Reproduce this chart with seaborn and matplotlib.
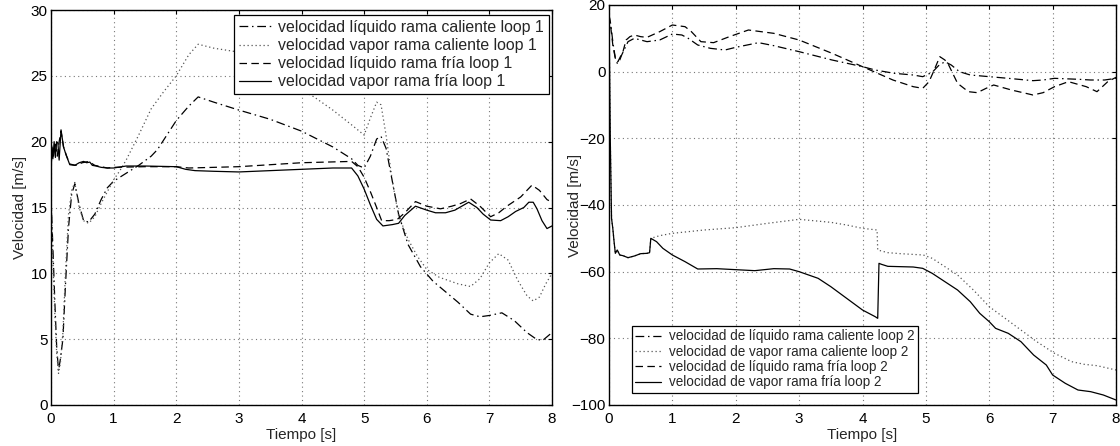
import numpy as np
import pandas as pd
import matplotlib
matplotlib.use("Agg")
import matplotlib.pyplot as plt
import seaborn as sns

# ---------------- data ----------------
xticks = [0, 1, 2, 3, 4, 5, 6, 7, 8]
yticks_left = [0, 5, 10, 15, 20, 25, 30]
yticks_right = [-100, -80, -60, -40, -20, 0, 20]

labels_left = ["velocidad líquido rama caliente loop 1",
               "velocidad vapor rama caliente loop 1",
               "velocidad líquido rama fría loop 1",
               "velocidad vapor rama fría loop 1"]
labels_right = ["velocidad de líquido rama caliente loop 2",
                "velocidad de vapor rama caliente loop 2",
                "velocidad de líquido rama fría loop 2",
                "velocidad de vapor rama fría loop 2"]

# loop 1 -- liquid, hot leg (dash-dot)
t_lc1 = [0, 0.03, 0.06, 0.09, 0.12, 0.15, 0.19, 0.23, 0.28, 0.33, 0.38, 0.45, 0.52, 0.6, 0.7, 0.8, 0.9,
         1.0, 1.2, 1.4, 1.6, 1.7, 1.85, 2.0, 2.2, 2.35, 2.6, 3.0, 3.5, 4.0, 4.5, 4.8, 4.9, 5.0, 5.1,
         5.2, 5.27, 5.35, 5.45, 5.55, 5.7, 5.9, 6.1, 6.3, 6.5, 6.7, 6.85, 7.0, 7.2, 7.4, 7.6, 7.75,
         7.85, 7.95, 8.0]
v_lc1 = [15.8, 12, 8, 4.5, 2.6, 3.5, 5.0, 9, 13.5, 16.0, 16.8, 15.2, 14.0, 13.9, 14.5, 15.6, 16.5,
         17.0, 17.6, 18.2, 18.9, 19.4, 20.5, 21.6, 22.7, 23.4, 23.0, 22.4, 21.7, 20.8, 19.6, 18.7,
         18.2, 18.0, 18.9, 20.2, 20.4, 19.5, 17.0, 14.5, 12.2, 10.5, 9.4, 8.6, 7.8, 6.9, 6.7, 6.8,
         7.0, 6.4, 5.5, 5.0, 4.9, 5.3, 5.5]

# loop 1 -- vapour, hot leg (dotted)
t_vc1 = [0, 0.03, 0.06, 0.09, 0.12, 0.15, 0.19, 0.23, 0.28, 0.33, 0.38, 0.45, 0.52, 0.6, 0.7, 0.8,
         0.9, 1.0, 1.1, 1.2, 1.4, 1.6, 1.8, 2.0, 2.2, 2.35, 2.6, 3.0, 3.5, 3.93, 4.2, 4.5, 4.82,
         5.0, 5.1, 5.2, 5.27, 5.35, 5.45, 5.55, 5.7, 5.85, 6.0, 6.2, 6.5, 6.7, 6.85, 7.0, 7.15,
         7.3, 7.45, 7.6, 7.7, 7.8, 7.9, 8.0]
v_vc1 = [15.8, 11, 7, 4, 2.4, 3.2, 5.5, 10, 14.5, 16.3, 16.9, 15.0, 14.0, 13.8, 14.3, 15.3,
         16.2, 17.1, 17.8, 18.6, 20.5, 22.5, 23.8, 25.0, 26.6, 27.4, 27.1, 26.8, 25.5, 24.1, 23.4,
         22.4, 21.2, 20.5, 21.8, 23.0, 22.8, 20.5, 17.0, 14.4, 12.6, 11.3, 10.3, 9.7, 9.2, 9.0,
         9.6, 10.8, 11.5, 11.0, 9.5, 8.3, 7.9, 8.2, 9.2, 10.0]

# loop 1 -- liquid, cold leg (dashed)
t_lf1 = [0, 0.01, 0.04, 0.07, 0.1, 0.13, 0.16, 0.2, 0.25, 0.3, 0.4, 0.5, 0.6, 0.7, 0.8, 0.9, 1.0,
         1.5, 2.0, 2.2, 3.0, 4.0, 4.8, 4.9, 5.0, 5.1, 5.2, 5.28, 5.4, 5.53, 5.65, 5.82, 6.0, 6.22,
         6.4, 6.54, 6.7, 6.85, 7.02, 7.15, 7.28, 7.5, 7.68, 7.8, 7.92, 8.0]
v_lf1 = [15.8, 19.6, 18.9, 19.8, 18.9, 20.0, 20.8, 19.6, 18.9, 18.3, 18.2, 18.4, 18.5, 18.2,
         18.1, 18.0, 18.05, 18.1, 18.1, 18.0, 18.1, 18.4, 18.5, 18.1, 17.3, 16.2, 15.0, 14.0,
         14.0, 14.1, 14.6, 15.45, 15.1, 14.9, 15.1, 15.3, 15.65, 15.1, 14.3, 14.6, 15.1, 15.8,
         16.7, 16.3, 15.6, 15.4]

# loop 1 -- vapour, cold leg (solid)
t_vf1 = [0, 0.01, 0.03, 0.05, 0.07, 0.09, 0.11, 0.13, 0.16, 0.2, 0.24, 0.3, 0.38, 0.45, 0.52,
         0.57, 0.62, 0.66, 0.72, 0.8, 0.9, 1.0, 1.2, 1.5, 2.0, 2.15, 2.3, 2.6, 3.0, 3.5, 4.0, 4.5,
         4.8, 4.9, 5.0, 5.1, 5.2, 5.3, 5.45, 5.55, 5.65, 5.82, 6.0, 6.14, 6.3, 6.45, 6.67, 6.8,
         6.9, 7.02, 7.18, 7.3, 7.42, 7.55, 7.63, 7.7, 7.76, 7.84, 7.92, 8.0]
v_vf1 = [15.8, 19.7, 18.7, 20.0, 18.8, 20.0, 19.9, 18.6, 20.9, 19.6, 19.0, 18.25, 18.2, 18.4,
         18.5, 18.4, 18.45, 18.2, 18.15, 18.05, 18.0, 18.0, 18.15, 18.15, 18.1, 17.9, 17.8, 17.75,
         17.7, 17.8, 17.9, 18.0, 18.0, 17.4, 16.4, 15.2, 14.1, 13.6, 13.7, 13.8, 14.4, 15.1, 14.8,
         14.6, 14.6, 14.8, 15.4, 15.0, 14.5, 14.05, 14.0, 14.3, 14.7, 15.0, 15.4, 15.4, 14.9, 14.0,
         13.4, 13.6]

# loop 2 -- liquid, hot leg (dash-dot)
t_lc2 = [0, 0.03, 0.06, 0.1, 0.13, 0.17, 0.2, 0.25, 0.3, 0.4, 0.5, 0.6, 0.8, 1.0, 1.15, 1.25, 1.4,
         1.6, 1.83, 2.0, 2.36, 2.6, 3.0, 3.52, 4.0, 4.2, 4.5, 4.8, 4.95, 5.1, 5.2, 5.3, 5.4, 5.53,
         5.7, 6.0, 6.3, 6.69, 6.85, 7.03, 7.42, 7.6, 7.82, 8.0]
v_lc2 = [17, 14, 9, 4, 2.5, 3.5, 5, 7, 9, 10, 9.5, 9, 9.5, 11.3, 11, 10, 8, 7, 6.5, 7.3, 8.7, 7.8,
         6, 3.5, 1.5, 0.5, -0.5, -1, -1.5, -0.2, 1.8, 3, 2, 0, -1, -1.5, -2, -2.7, -2.5, -2,
         -2.3, -2.5, -2.5, -2]

# loop 2 -- vapour, hot leg (dotted)
t_vc2 = [0, 0.02, 0.04, 0.06, 0.08, 0.1, 0.13, 0.17, 0.22, 0.3, 0.4, 0.5, 0.6, 0.64, 0.66, 0.8,
         1.0, 1.5, 2.0, 2.5, 3.0, 3.5, 3.75, 4.0, 4.23, 4.24, 4.4, 4.6, 4.96, 5.1, 5.22, 5.5, 5.75,
         6.0, 6.25, 6.5, 6.75, 7.03, 7.3, 7.5, 7.7, 8.0]
v_vc2 = [17, -20, -44, -47, -51, -54.5, -53.5, -55, -55.2, -55.8, -55.3, -54.6, -54.5, -54.3,
         -50, -49.2, -48.5, -47.5, -46.8, -45.5, -44.3, -45.2, -46, -47, -47.5, -53.5, -54.3,
         -54.6, -55, -56, -57.5, -61, -65.5, -70.5, -74, -77.5, -81, -84.5, -87, -87.8, -88.2,
         -89.5]

# loop 2 -- liquid, cold leg (dashed)
t_lf2 = [0, 0.03, 0.06, 0.1, 0.14, 0.18, 0.22, 0.27, 0.33, 0.4, 0.5, 0.6, 0.8, 1.0, 1.2, 1.3,
         1.45, 1.65, 1.9, 2.2, 2.6, 3.0, 3.52, 4.0, 4.48, 4.8, 4.95, 5.05, 5.12, 5.22, 5.3, 5.36,
         5.5, 5.67, 5.81, 5.95, 6.07, 6.35, 6.69, 6.85, 7.03, 7.25, 7.53, 7.7, 7.87, 8.0]
v_lf2 = [17, 13, 8, 4, 3, 4.5, 6, 9.5, 10.5, 11, 10.5, 10.3, 12, 14, 13.5, 12, 9, 8.7, 10.5, 12.5,
         11.5, 9.5, 5.5, 1.5, -2.5, -4.5, -5, -3, 0, 4.5, 3.5, 2, -3.5, -6, -6.3, -5, -4, -5.5,
         -7, -6.3, -4.5, -3, -4.5, -6, -3, -1.7]

# loop 2 -- vapour, cold leg (solid)
t_vf2 = [0, 0.02, 0.04, 0.06, 0.08, 0.1, 0.13, 0.17, 0.22, 0.3, 0.4, 0.5, 0.6, 0.64, 0.66, 0.75,
         0.85, 1.0, 1.2, 1.4, 1.7, 2.0, 2.3, 2.6, 2.85, 3.0, 3.3, 3.5, 3.75, 4.0, 4.2, 4.24, 4.26,
         4.3, 4.4, 4.6, 4.8, 4.95, 5.1, 5.3, 5.5, 5.7, 5.85, 6.0, 6.1, 6.3, 6.5, 6.7, 6.9, 7.0,
         7.2, 7.4, 7.6, 7.8, 8.0]
v_vf2 = [17, -20, -44, -47, -51, -54.5, -53.5, -55, -55.2, -55.8, -55.3, -54.6, -54.5, -54.3,
         -50, -51, -53, -55, -57, -59.2, -59.1, -59.4, -59.7, -59.1, -59.2, -60, -62, -64.5, -68,
         -71.5, -73.5, -74, -57.5, -57.8, -58.4, -58.5, -58.6, -59, -60.5, -63, -65.5, -69,
         -72.5, -75, -77, -78.5, -81, -85, -88, -91, -93.5, -95.5, -96, -97, -98.5]

# ---------------- styling ----------------
sns.set_style("white")
plt.rcParams["font.family"] = ["Liberation Sans", "DejaVu Sans"]
plt.rcParams["axes.unicode_minus"] = True

DASHDOT = (0, (7, 3, 1.2, 3))
DOTTED = (0, (1, 2.2))
DASHED = (0, (6, 3.5))
SOLID = "-"
styles = [DASHDOT, DOTTED, DASHED, SOLID]
colors = ["black", "#555555", "black", "black"]

FS = 11

fig = plt.figure(figsize=(11.2, 4.46), dpi=100)
axL = fig.add_axes([51 / 1120, 41 / 446, 501 / 1120, 395 / 446])
axR = fig.add_axes([609 / 1120, 41 / 446, 507 / 1120, 400 / 446])


def draw(ax, series, labels):
    for (t, v), lab, ls, c in zip(series, labels, styles, colors):
        df = pd.DataFrame({"t": t, "v": v})
        sns.lineplot(data=df, x="t", y="v", ax=ax, color=c, linestyle=ls, linewidth=0.9,
                     estimator=None, sort=False, label=lab, legend=False)


draw(axL, [(t_lc1, v_lc1), (t_vc1, v_vc1), (t_lf1, v_lf1), (t_vf1, v_vf1)], labels_left)
draw(axR, [(t_lc2, v_lc2), (t_vc2, v_vc2), (t_lf2, v_lf2), (t_vf2, v_vf2)], labels_right)

for ax, yt, ylx, h in [(axL, yticks_left, -0.047, 395), (axR, yticks_right, -0.053, 400)]:
    ax.set_xlim(0, 8)
    ax.set_ylim(yt[0], yt[-1])
    ax.set_xticks(xticks)
    ax.set_yticks(yt)
    ax.grid(True, color="#777777", linestyle=(0, (1, 3)), linewidth=0.8)
    ax.set_axisbelow(True)
    for s in ax.spines.values():
        s.set_visible(True)
        s.set_color("black")
        s.set_linewidth(1.0)
    ax.tick_params(direction="in", length=3, width=0.8, labelsize=FS, colors="black",
                   top=True, right=True)
    ax.tick_params(axis="x", pad=5)
    ax.tick_params(axis="y", pad=2.5)
    ax.set_xlabel("Tiempo [s]", fontsize=FS)
    ax.set_ylabel("Velocidad [m/s]", fontsize=FS)
    ax.yaxis.set_label_coords(ylx, 0.5)
    ax.xaxis.set_label_coords(0.5, -23 / h)

hL, lL = axL.get_legend_handles_labels()
axL.legend(hL, lL, loc="upper right", bbox_to_anchor=(0.994, 0.987), fontsize=11.4,
           frameon=True, fancybox=False, edgecolor="black", framealpha=1,
           handlelength=2.0, handletextpad=0.5, labelspacing=0.2, borderpad=0.3,
           borderaxespad=0)
hR, lR = axR.get_legend_handles_labels()
axR.legend(hR, lR, loc="lower left", bbox_to_anchor=(0.045, 0.03), fontsize=9.75,
           frameon=True, fancybox=False, edgecolor="black", framealpha=1,
           handlelength=1.9, handletextpad=0.6, labelspacing=0.1, borderpad=0.27,
           borderaxespad=0)
for lg in (axL.get_legend(), axR.get_legend()):
    lg.get_frame().set_linewidth(0.9)

fig.savefig("out.png", dpi=100)
